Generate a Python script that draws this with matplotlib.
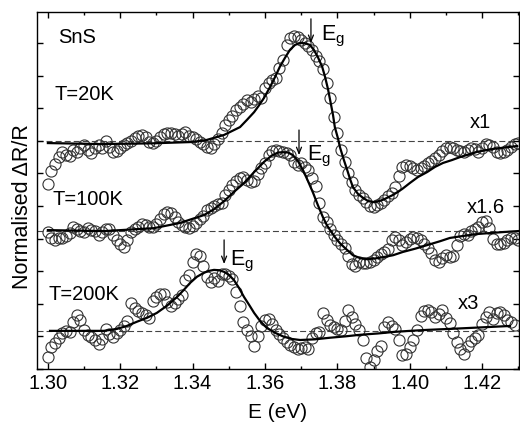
import numpy as np
import matplotlib.pyplot as plt
from matplotlib.ticker import MultipleLocator, FormatStrFormatter

# -------------------------------------------------
# DATA
# -------------------------------------------------
# photon energy of the measured points (eV)
E_DATA = [
    1.300, 1.301, 1.302, 1.303, 1.304, 1.305, 1.306, 1.307, 1.308, 1.309,
    1.310, 1.311, 1.312, 1.313, 1.314, 1.315, 1.316, 1.317, 1.318, 1.319,
    1.320, 1.321, 1.322, 1.323, 1.324, 1.325, 1.326, 1.327, 1.328, 1.329,
    1.330, 1.331, 1.332, 1.333, 1.334, 1.335, 1.336, 1.337, 1.338, 1.339,
    1.340, 1.341, 1.342, 1.343, 1.344, 1.345, 1.346, 1.347, 1.348, 1.349,
    1.350, 1.351, 1.352, 1.353, 1.354, 1.355, 1.356, 1.357, 1.358, 1.359,
    1.360, 1.361, 1.362, 1.363, 1.364, 1.365, 1.366, 1.367, 1.368, 1.369,
    1.370, 1.371, 1.372, 1.373, 1.374, 1.375, 1.376, 1.377, 1.378, 1.379,
    1.380, 1.381, 1.382, 1.383, 1.384, 1.385, 1.386, 1.387, 1.388, 1.389,
    1.390, 1.391, 1.392, 1.393, 1.394, 1.395, 1.396, 1.397, 1.398, 1.399,
    1.400, 1.401, 1.402, 1.403, 1.404, 1.405, 1.406, 1.407, 1.408, 1.409,
    1.410, 1.411, 1.412, 1.413, 1.414, 1.415, 1.416, 1.417, 1.418, 1.419,
    1.420, 1.421, 1.422, 1.423, 1.424, 1.425, 1.426, 1.427, 1.428, 1.429,
    1.430,
]

# measured dR/R (scaled, relative to each baseline)
R_20K = [
    -1.30, -0.90, -0.69, -0.48, -0.32, -0.41, -0.44, -0.26, -0.32, -0.20,
    -0.11, -0.26, -0.35, -0.20, -0.11, -0.20, 0.02, -0.17, -0.32, -0.29,
    -0.20, -0.11, -0.05, 0.02, 0.11, 0.17, 0.20, 0.14, -0.02, -0.05,
    0.02, 0.14, 0.23, 0.26, 0.26, 0.23, 0.17, 0.23, 0.29, 0.17,
    0.14, 0.08, -0.02, -0.08, -0.17, -0.20, -0.08, 0.08, 0.26, 0.51,
    0.66, 0.78, 0.97, 1.06, 1.15, 1.27, 1.21, 1.30, 1.40, 1.33,
    1.64, 1.79, 1.89, 1.95, 2.25, 2.50, 2.96, 3.17, 3.24, 3.21,
    3.11, 3.02, 2.93, 2.81, 2.62, 2.47, 2.22, 1.79, 1.33, 0.75,
    0.26, -0.26, -0.63, -0.97, -1.24, -1.49, -1.64, -1.73, -1.86, -1.98,
    -2.01, -1.95, -1.89, -1.79, -1.67, -1.58, -1.40, -1.06, -0.78, -0.72,
    -0.75, -0.81, -0.87, -0.81, -0.75, -0.66, -0.60, -0.51, -0.41, -0.29,
    -0.20, -0.17, -0.20, -0.26, -0.29, -0.32, -0.26, -0.20, -0.23, -0.32,
    -0.20, -0.08, -0.11, -0.17, -0.32, -0.35, -0.32, -0.26, -0.17, -0.08,
    -0.05,
]
R_100K = [
    -0.03, -0.21, -0.28, -0.21, -0.21, -0.15, -0.06, 0.12, 0.06, 0.00,
    -0.03, 0.09, 0.03, 0.00, -0.12, -0.03, 0.06, 0.06, -0.12, -0.28,
    -0.40, -0.49, -0.28, -0.03, 0.06, 0.12, 0.21, 0.18, 0.12, 0.12,
    0.21, 0.37, 0.52, 0.58, 0.55, 0.43, 0.28, 0.18, 0.12, 0.09,
    0.15, 0.25, 0.37, 0.46, 0.64, 0.71, 0.77, 0.83, 0.86, 1.10,
    1.26, 1.41, 1.53, 1.63, 1.66, 1.56, 1.50, 1.53, 1.75, 1.93,
    2.09, 2.33, 2.45, 2.48, 2.45, 2.42, 2.39, 2.33, 2.12, 2.02,
    2.09, 1.96, 1.87, 1.63, 1.38, 0.86, 0.43, 0.28, 0.06, -0.12,
    -0.28, -0.40, -0.52, -0.77, -1.01, -1.07, -0.95, -0.98, -0.98, -0.95,
    -0.89, -0.80, -0.71, -0.64, -0.55, -0.28, -0.18, -0.28, -0.43, -0.34,
    -0.25, -0.18, -0.21, -0.28, -0.40, -0.52, -0.67, -0.89, -0.95, -0.83,
    -0.74, -0.80, -0.77, -0.43, -0.15, -0.09, -0.12, 0.00, 0.06, 0.12,
    0.28, 0.31, 0.09, -0.25, -0.40, -0.40, -0.37, -0.28, -0.21, -0.21,
    -0.28,
]
R_200K = [
    -0.80, -0.49, -0.37, -0.21, -0.06, 0.00, -0.03, 0.28, 0.49, 0.34,
    0.03, -0.12, -0.18, -0.28, -0.40, -0.25, 0.06, -0.09, -0.18, -0.06,
    0.03, 0.15, 0.31, 0.86, 0.71, 0.61, 0.55, 0.49, 0.40, 0.92,
    1.04, 1.13, 1.13, 0.89, 0.77, 0.86, 0.98, 1.10, 1.56, 1.72,
    2.12, 2.36, 2.30, 1.99, 1.66, 1.50, 1.63, 1.53, 1.75, 1.75,
    1.69, 1.60, 1.20, 0.77, 0.28, 0.03, -0.15, -0.46, -0.15, 0.15,
    0.34, 0.37, 0.21, 0.03, -0.09, -0.21, -0.34, -0.43, -0.49, -0.55,
    -0.52, -0.49, -0.55, -0.21, -0.06, -0.03, 0.55, 0.34, 0.18, 0.12,
    0.06, 0.03, 0.31, 0.64, 0.43, 0.21, 0.03, -0.28, -0.83, -1.10,
    -0.89, -0.61, -0.46, 0.12, 0.28, 0.15, 0.06, -0.28, -0.74, -0.71,
    -0.49, -0.28, 0.03, 0.46, 0.61, 0.64, 0.58, 0.43, 0.52, 0.64,
    0.40, 0.25, -0.06, -0.34, -0.55, -0.71, -0.46, -0.31, -0.21, -0.12,
    0.21, 0.43, 0.58, 0.37, 0.55, 0.58, 0.49, 0.34, 0.28, 0.18,
]

# fitted line shapes
FIT_E_20K = [
    1.3000, 1.3144, 1.3282, 1.3393, 1.3434, 1.3462, 1.3487, 1.3509, 1.3531,
    1.3550, 1.3570, 1.3583, 1.3597, 1.3614, 1.3628, 1.3641, 1.3655, 1.3669,
    1.3683, 1.3697, 1.3711, 1.3724, 1.3735, 1.3746, 1.3758, 1.3766, 1.3774,
    1.3780, 1.3788, 1.3793, 1.3802, 1.3807, 1.3818, 1.3827, 1.3835, 1.3843,
    1.3857, 1.3871, 1.3885, 1.3899, 1.3912, 1.3926, 1.3954, 1.3979, 1.4001,
    1.4023, 1.4048, 1.4070, 1.4092, 1.4117, 1.4139, 1.4186, 1.4230, 1.4297,
]
FIT_R_20K = [
    -0.05, -0.08, -0.06, -0.02, 0.03, 0.12, 0.20, 0.32, 0.44,
    0.66, 0.90, 1.10, 1.33, 1.67, 1.98, 2.29, 2.56, 2.81,
    2.96, 3.02, 3.01, 2.96, 2.81, 2.59, 2.29, 1.98, 1.61,
    1.27, 0.81, 0.44, 0.08, -0.17, -0.57, -0.87, -1.15, -1.40,
    -1.61, -1.73, -1.83, -1.86, -1.84, -1.79, -1.64, -1.46, -1.27,
    -1.09, -0.94, -0.78, -0.66, -0.57, -0.48, -0.32, -0.23, -0.14,
]
FIT_E_100K = [
    1.3000, 1.3155, 1.3293, 1.3365, 1.3431, 1.3459, 1.3487, 1.3514, 1.3542,
    1.3570, 1.3597, 1.3619, 1.3636, 1.3650, 1.3664, 1.3677, 1.3691, 1.3705,
    1.3719, 1.3733, 1.3746, 1.3760, 1.3771, 1.3780, 1.3793, 1.3807, 1.3824,
    1.3843, 1.3863, 1.3882, 1.3904, 1.3926, 1.3954, 1.3981, 1.4015, 1.4048,
    1.4084, 1.4111, 1.4147, 1.4186, 1.4222, 1.4258, 1.4299,
]
FIT_R_100K = [
    0.03, 0.00, 0.09, 0.25, 0.49, 0.67, 0.92, 1.20, 1.47,
    1.81, 2.12, 2.32, 2.41, 2.42, 2.41, 2.33, 2.15, 1.87,
    1.53, 1.17, 0.80, 0.43, 0.18, 0.03, -0.18, -0.37, -0.55,
    -0.74, -0.83, -0.86, -0.84, -0.80, -0.74, -0.64, -0.54, -0.43,
    -0.31, -0.21, -0.15, -0.09, -0.06, -0.03, 0.00,
]
FIT_E_200K = [
    1.3006, 1.3155, 1.3191, 1.3218, 1.3246, 1.3274, 1.3301, 1.3329, 1.3357,
    1.3376, 1.3393, 1.3412, 1.3431, 1.3445, 1.3459, 1.3473, 1.3487, 1.3500,
    1.3514, 1.3528, 1.3542, 1.3556, 1.3570, 1.3586, 1.3605, 1.3628, 1.3652,
    1.3675, 1.3697, 1.3738, 1.3780, 1.3821, 1.3863, 1.3912, 1.3959, 1.4001,
    1.4048, 1.4111, 1.4167, 1.4222, 1.4277,
]
FIT_R_200K = [
    0.00, 0.00, 0.06, 0.15, 0.28, 0.40, 0.55, 0.77, 1.04,
    1.26, 1.47, 1.66, 1.78, 1.84, 1.87, 1.86, 1.81, 1.72,
    1.56, 1.32, 1.04, 0.80, 0.55, 0.31, 0.09, -0.06, -0.18,
    -0.25, -0.28, -0.26, -0.21, -0.17, -0.12, -0.08, -0.03, 0.00,
    0.03, 0.06, 0.09, 0.12, 0.15,
]

OFFSETS = [6.98, 4.23, 1.17]          # vertical shift of each spectrum
TEMPS = ["T=20K", "T=100K", "T=200K"]
SCALES = ["x1", "x1.6", "x3"]
EG_POS = [1.3727, 1.3694, 1.3487]     # position of the Eg arrows (eV)

# -------------------------------------------------
# STYLE
# -------------------------------------------------
plt.rcParams['font.family'] = ['Liberation Sans', 'DejaVu Sans']
plt.rcParams['mathtext.fontset'] = 'custom'
plt.rcParams['mathtext.rm'] = 'Liberation Sans'
plt.rcParams['mathtext.it'] = 'Liberation Sans:italic'

FS = 14.5

fig = plt.figure(figsize=(5.2, 4.24), dpi=100)
ax = fig.add_axes([0.0712, 0.1297, 0.9269, 0.8420])

series = [
    (E_DATA, R_20K, FIT_E_20K, FIT_R_20K),
    (E_DATA, R_100K, FIT_E_100K, FIT_R_100K),
    (E_DATA[:len(R_200K)], R_200K, FIT_E_200K, FIT_R_200K),
]

for (e, r, fe, fr), off in zip(series, OFFSETS):
    ax.axhline(off, color='#444444', lw=0.8, dashes=(5.4, 2.75), zorder=1)
    ax.plot(e, np.array(r) + off, 'o', ms=8, mfc='none', mec='#333333',
            mew=0.8, zorder=2)
    ax.plot(fe, np.array(fr) + off, color='k', lw=1.6, zorder=3)

# -------------------------------------------------
# LABELS
# -------------------------------------------------
ax.text(1.3028, 10.0, "SnS", fontsize=FS, va='baseline')
temp_pos = [(1.3019, 8.25), (1.3014, 5.03), (1.3003, 2.12)]
for (x, y), s in zip(temp_pos, TEMPS):
    ax.text(x, y, s, fontsize=FS, va='baseline')

scale_pos = [(1.4167, 7.39), (1.4158, 4.79), (1.4134, 1.84)]
for (x, y), s in zip(scale_pos, SCALES):
    ax.text(x, y, s, fontsize=FS, va='baseline')

arrow_y = [(10.74, 10.0), (7.33, 6.56), (3.96, 3.22)]
label_pos = [(1.3755, 10.09), (1.3716, 6.41), (1.3503, 3.19)]
for xe, (y0, y1), (lx, ly) in zip(EG_POS, arrow_y, label_pos):
    ax.annotate('', xy=(xe, y1), xytext=(xe, y0),
                arrowprops=dict(arrowstyle='->,head_length=0.45,head_width=0.18',
                                color='k', lw=0.9, shrinkA=0, shrinkB=0))
    ax.text(lx, ly, r'E$_{\mathrm{g}}$', fontsize=15.5, va='baseline')

# -------------------------------------------------
# AXES
# -------------------------------------------------
ax.set_xlim(1.2970, 1.4302)
ax.set_ylim(0, 10.95)
ax.xaxis.set_major_locator(MultipleLocator(0.02))
ax.xaxis.set_minor_locator(MultipleLocator(0.01))
ax.xaxis.set_major_formatter(FormatStrFormatter('%.2f'))
ax.yaxis.set_major_locator(MultipleLocator(1))
ax.tick_params(which='both', direction='in', top=True, right=True,
               width=1.0, labelleft=False, labelsize=FS, pad=3.6)
ax.tick_params(which='major', length=4.3)
ax.tick_params(which='minor', length=2.4)
for sp in ax.spines.values():
    sp.set_linewidth(1.0)

ax.set_xlabel("E (eV)", fontsize=15, labelpad=7)
ax.set_ylabel("Normalised \u0394R/R", fontsize=15.5)
ax.yaxis.set_label_coords(-0.009, 0.454)

fig.savefig("out.png", dpi=100)
